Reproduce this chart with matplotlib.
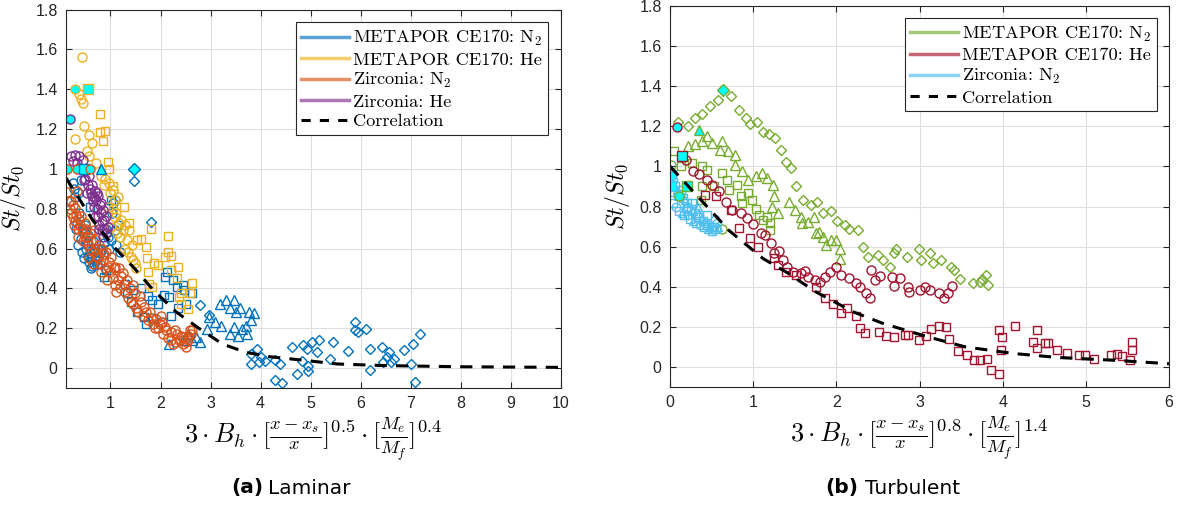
import matplotlib
matplotlib.use("Agg")
import matplotlib.pyplot as plt
from matplotlib.lines import Line2D
from matplotlib.font_manager import FontProperties

plt.rcParams['mathtext.fontset'] = 'cm'
plt.rcParams['font.family'] = ['Liberation Sans', 'DejaVu Sans']

# ---------------- laminar data ----------------
lam_corr_x = [0.11, 0.64, 1.1, 1.48, 1.86, 2.32, 2.78, 3.24, 3.7, 4.16, 4.92, 5.53, 6.45, 8.0, 10.0]
lam_corr_y = [0.955, 0.744, 0.60, 0.50, 0.39, 0.28, 0.197, 0.12, 0.079, 0.057, 0.037, 0.02, 0.012, 0.006, 0.003]

lam_n2_circ_x = [0.26, 0.41, 0.30, 0.34, 0.41, 0.49, 0.53, 0.56, 0.60, 0.64, 0.72, 0.79, 0.87, 1.02,
                 1.10, 1.06, 1.10, 0.45, 0.38, 0.52, 0.58, 0.68, 0.76, 0.66, 0.50, 0.95, 1.15, 0.62, 1.04,
                 0.32, 0.36, 0.43, 0.47, 0.55, 0.62, 0.70, 0.74, 0.82, 0.92, 0.98, 1.12, 1.20, 0.28, 0.35]
lam_n2_circ_y = [0.93, 0.946, 0.86, 0.727, 0.65, 0.677, 0.626, 0.56, 0.576, 0.51, 0.542, 0.576, 0.626, 0.643,
                 0.694, 0.828, 0.845, 0.70, 0.78, 0.60, 0.53, 0.52, 0.60, 0.64, 0.72, 0.66, 0.72, 0.55, 0.78,
                 0.70, 0.62, 0.58, 0.55, 0.67, 0.50, 0.58, 0.52, 0.60, 0.70, 0.60, 0.62, 0.58, 0.90, 0.88]
lam_n2_sq_x = [0.87, 0.91, 1.02, 1.33, 1.40, 1.44, 1.52, 1.67, 1.71, 1.83, 1.94, 2.02, 2.06, 2.09, 2.13,
               2.17, 2.25, 2.32, 2.44, 2.47, 2.51, 2.63, 1.60, 1.75, 2.20, 1.30, 1.85, 2.35, 0.60]
lam_n2_sq_y = [0.458, 0.49, 0.845, 0.374, 0.332, 0.39, 0.281, 0.256, 0.222, 0.34, 0.323, 0.23, 0.365, 0.458,
               0.483, 0.357, 0.441, 0.407, 0.416, 0.39, 0.323, 0.374, 0.40, 0.36, 0.26, 0.42, 0.25, 0.30, 0.81]
lam_n2_tri_x = [2.17, 2.63, 2.70, 2.78, 2.93, 2.97, 3.08, 3.18, 3.20, 3.31, 3.39, 3.39, 3.47, 3.47, 3.50,
                3.54, 3.58, 3.62, 3.70, 3.73, 3.77, 3.81, 3.86, 2.45, 2.55]
lam_n2_tri_y = [0.12, 0.138, 0.155, 0.13, 0.197, 0.256, 0.23, 0.32, 0.21, 0.34, 0.30, 0.17, 0.34, 0.205, 0.28,
                0.163, 0.30, 0.197, 0.21, 0.17, 0.28, 0.24, 0.277, 0.14, 0.17]
lam_n2_dia_x = [1.46, 1.80, 2.78, 2.97, 3.81, 3.81, 3.93, 4.0, 4.08, 3.96, 4.29, 4.38, 4.29, 4.42, 4.63, 4.73,
                4.83, 4.84, 4.93, 4.94, 4.95, 5.03, 5.13, 5.17, 5.38, 5.44, 5.74, 5.88, 5.88, 5.95, 6.1, 6.18,
                6.18, 6.43, 6.45, 6.52, 6.56, 6.6, 6.67, 6.87, 7.0, 7.04, 7.08, 7.19]
lam_n2_dia_y = [0.94, 0.735, 0.315, 0.264, 0.02, 0.07, 0.096, 0.054, 0.037, 0.03, 0.04, 0.02, -0.06, -0.077,
                0.104, -0.03, 0.037, 0.113, 0.096, 0.012, -0.013, 0.13, 0.079, 0.14, 0.045, 0.13, 0.084, 0.23,
                0.19, 0.18, 0.197, 0.096, -0.01, 0.104, 0.03, 0.054, 0.08, 0.03, 0.045, 0.088, 0.02, 0.12,
                -0.072, 0.17]

lam_he_circ_x = [0.43, 0.37, 0.41, 0.45, 0.47, 0.58, 0.30, 0.64, 0.53, 0.58, 0.72, 0.81, 0.87, 1.06, 1.10,
                 0.95, 1.10, 1.18, 1.25, 1.33, 1.29, 1.40, 1.48, 1.14, 1.21, 1.02, 1.37,
                 1.00, 1.05, 1.12, 1.20, 1.30, 1.35, 1.42, 1.45, 1.50, 0.90, 0.98, 1.15]
lam_he_circ_y = [1.56, 1.375, 1.35, 1.333, 1.215, 1.17, 1.148, 1.13, 1.09, 1.064, 1.03, 0.963, 0.92, 0.896,
                 0.845, 0.81, 0.76, 0.727, 0.694, 0.643, 0.60, 0.559, 0.525, 0.677, 0.744, 0.71, 0.694,
                 0.88, 0.80, 0.78, 0.66, 0.72, 0.58, 0.62, 0.54, 0.50, 0.95, 0.93, 0.86]
lam_he_sq_x = [0.79, 0.79, 0.89, 0.86, 0.95, 0.98, 1.06, 1.27, 1.37, 1.52, 1.60, 1.71, 1.73, 1.81, 1.86,
               1.94, 1.75, 1.77, 1.83, 2.09, 2.15, 2.15, 2.21, 2.21, 2.34, 2.32, 2.40, 2.40, 2.55, 2.59,
               2.63, 2.36]
lam_he_sq_y = [1.274, 1.185, 1.19, 1.14, 1.035, 0.997, 0.912, 0.81, 0.73, 0.643, 0.646, 0.61, 0.55, 0.697,
               0.525, 0.517, 0.483, 0.424, 0.407, 0.556, 0.663, 0.584, 0.56, 0.49, 0.508, 0.45, 0.374, 0.323,
               0.298, 0.374, 0.428, 0.357]

lam_zr_n2_x = [0.14, 0.34, 0.22, 0.30, 0.41, 0.49, 0.60, 0.68, 0.72, 0.83, 0.91, 1.02, 0.95, 1.10, 1.18,
               1.25, 1.10, 1.33, 1.44, 1.48, 1.60, 1.67, 1.79, 1.90, 2.02, 2.09, 2.21, 2.32, 2.44, 2.55,
               2.63, 2.51, 2.25, 2.36, 0.20, 0.25, 0.30, 0.35, 0.40, 0.45, 0.50, 0.55, 0.60, 0.65, 0.70,
               0.75, 0.80, 0.85, 0.90, 1.00, 1.05, 1.15, 1.20, 1.30, 1.35, 1.40, 1.50, 1.55, 1.65, 1.75,
               1.85, 1.95, 2.05, 2.15, 2.30, 2.45, 2.55, 2.60,
               0.18, 0.22, 0.26, 0.28, 0.32, 0.36, 0.38, 0.43, 0.46, 0.52, 0.56, 0.58, 0.62, 0.66, 0.72,
               0.78, 0.82, 0.88, 0.94, 0.98, 1.08, 1.12, 1.22, 1.28, 1.38, 1.45, 1.58, 1.70, 1.80, 1.88,
               1.98, 2.10, 2.20, 2.28, 2.40, 2.50, 2.58, 2.00]
lam_zr_n2_y = [0.882, 0.887, 0.837, 0.803, 0.761, 0.727, 0.677, 0.694, 0.643, 0.60, 0.584, 0.559, 0.508,
               0.508, 0.50, 0.475, 0.416, 0.441, 0.416, 0.374, 0.332, 0.306, 0.281, 0.247, 0.23, 0.205,
               0.18, 0.172, 0.155, 0.163, 0.19, 0.104, 0.121, 0.138, 0.80, 0.76, 0.74, 0.70, 0.72, 0.68,
               0.66, 0.62, 0.60, 0.58, 0.60, 0.55, 0.52, 0.54, 0.50, 0.48, 0.45, 0.44, 0.40, 0.38, 0.35,
               0.33, 0.30, 0.28, 0.26, 0.24, 0.22, 0.20, 0.17, 0.15, 0.13, 0.12, 0.14, 0.17,
               0.84, 0.78, 0.82, 0.72, 0.77, 0.66, 0.75, 0.70, 0.64, 0.70, 0.66, 0.55, 0.64, 0.52, 0.56,
               0.62, 0.48, 0.57, 0.44, 0.53, 0.50, 0.38, 0.46, 0.42, 0.40, 0.32, 0.36, 0.28, 0.25, 0.20,
               0.22, 0.19, 0.14, 0.19, 0.16, 0.13, 0.19, 0.26]

lam_zr_he_x = [0.22, 0.30, 0.37, 0.45, 0.53, 0.58, 0.64, 0.70, 0.76, 0.81, 0.85, 0.91, 0.95, 0.91, 0.83,
               0.76, 0.68, 0.63, 0.53, 0.47, 0.37, 0.72, 0.81, 0.87, 0.60, 0.66, 0.78,
               0.25, 0.33, 0.42, 0.50, 0.55, 0.62, 0.67, 0.73, 0.79, 0.84, 0.88, 0.78, 0.70, 0.74, 0.86]
lam_zr_he_y = [1.064, 1.072, 1.064, 1.047, 0.997, 0.963, 0.92, 0.887, 0.862, 0.828, 0.795, 0.761, 0.71,
               0.677, 0.694, 0.761, 0.811, 0.862, 0.879, 0.946, 1.005, 0.845, 0.778, 0.744, 0.90, 0.84, 0.72,
               1.04, 1.03, 1.00, 0.95, 0.92, 0.88, 0.86, 0.80, 0.82, 0.74, 0.70, 0.70, 0.76, 0.88, 0.66]

# first points (filled cyan): x, y, marker, edge colour index
lam_start_x = [0.13, 0.33, 0.47, 0.60, 0.81, 0.30, 0.55, 0.20, 1.46]
lam_start_y = [1.0, 1.0, 1.0, 1.0, 1.0, 1.40, 1.40, 1.25, 1.0]
lam_start_m = ['o', 'o', 's', 'o', '^', 'o', 's', 'o', 'D']
lam_start_c = [2, 2, 0, 2, 0, 1, 1, 3, 0]

# ---------------- turbulent data ----------------
tur_corr_x = [0.0, 0.71, 1.12, 1.39, 1.75, 2.2, 2.56, 3.1, 3.55, 4.13, 4.67, 5.35, 6.0]
tur_corr_y = [1.0, 0.68, 0.54, 0.475, 0.375, 0.275, 0.217, 0.15, 0.10, 0.067, 0.047, 0.033, 0.016]

tur_n2_dia_x = [0.09, 0.21, 0.30, 0.39, 0.48, 0.58, 0.73, 0.83, 0.91, 0.96, 1.05, 1.12, 1.19, 1.26, 1.34,
                1.39, 1.45, 1.52, 1.60, 1.70, 1.77, 1.84, 1.94, 2.01, 2.10, 2.15, 2.26, 2.32, 2.38, 2.50,
                2.56, 2.65, 2.72, 2.69, 2.85, 2.99, 3.02, 3.12, 3.16, 3.26, 3.38, 3.41, 3.49, 3.64, 3.73,
                3.80, 3.82, 3.75]
tur_n2_dia_y = [1.22, 1.20, 1.24, 1.26, 1.30, 1.33, 1.35, 1.28, 1.24, 1.21, 1.22, 1.17, 1.16, 1.14, 1.08,
                1.02, 0.99, 0.90, 0.83, 0.81, 0.825, 0.77, 0.78, 0.73, 0.71, 0.687, 0.683, 0.60, 0.55, 0.56,
                0.533, 0.50, 0.59, 0.567, 0.55, 0.587, 0.533, 0.567, 0.517, 0.533, 0.50, 0.483, 0.44, 0.417,
                0.425, 0.458, 0.408, 0.44]
tur_n2_tri_x = [0.22, 0.30, 0.39, 0.45, 0.50, 0.60, 0.63, 0.70, 0.78, 0.78, 0.87, 0.94, 1.03, 1.11, 1.16,
                1.24, 1.25, 1.23, 1.30, 1.43, 1.50, 1.57, 1.66, 1.73, 1.75, 1.84, 1.93, 2.00, 2.04, 2.04,
                1.88, 1.79, 1.59]
tur_n2_tri_y = [1.10, 1.11, 1.125, 1.15, 1.117, 1.083, 1.125, 1.075, 1.058, 1.008, 0.975, 0.933, 0.95, 0.967,
                0.942, 0.908, 0.85, 0.80, 0.767, 0.825, 0.783, 0.75, 0.725, 0.75, 0.667, 0.65, 0.633, 0.633,
                0.59, 0.54, 0.608, 0.675, 0.717]
tur_n2_sq_x = [0.05, 0.13, 0.26, 0.39, 0.44, 0.39, 0.53, 0.62, 0.69, 0.71, 0.80, 0.85, 0.87, 0.94, 0.98,
               1.03, 1.07, 1.12, 1.20, 1.20, 1.16, 0.37]
tur_n2_sq_y = [1.075, 1.0, 1.017, 1.0, 0.983, 0.90, 0.90, 0.967, 0.933, 0.883, 0.908, 0.85, 0.817, 0.867,
               0.833, 0.79, 0.758, 0.733, 0.717, 0.683, 0.75, 0.833]
tur_n2_circ_x = [0.01, 0.62]
tur_n2_circ_y = [1.008, 0.69]

tur_he_circ_x = [0.19, 0.27, 0.35, 0.44, 0.51, 0.59, 0.67, 0.75, 0.85, 0.93, 1.00, 1.09, 1.14, 1.21, 1.25,
                 1.31, 1.36, 1.41, 1.48, 1.57, 1.62, 1.66, 1.74, 1.80, 1.86, 1.92, 2.00, 2.06, 2.15, 2.23,
                 2.29, 2.36, 2.40, 2.42, 2.46, 2.53, 2.67, 2.69, 2.76, 2.86, 2.87, 3.01, 3.07, 3.12, 3.23,
                 3.30, 3.34, 3.39]
tur_he_circ_y = [1.03, 0.975, 0.963, 0.933, 0.907, 0.875, 0.825, 0.783, 0.767, 0.742, 0.713, 0.667, 0.658,
                 0.62, 0.567, 0.58, 0.533, 0.50, 0.475, 0.467, 0.48, 0.45, 0.433, 0.425, 0.45, 0.475, 0.50,
                 0.458, 0.442, 0.42, 0.40, 0.367, 0.342, 0.483, 0.433, 0.453, 0.45, 0.403, 0.442, 0.40,
                 0.375, 0.383, 0.40, 0.383, 0.367, 0.342, 0.367, 0.403]
tur_he_sq_x = [0.42, 0.55, 0.73, 0.83, 0.96, 1.06, 1.25, 1.30, 1.39, 1.51, 1.75, 1.86, 1.96, 2.05, 2.13,
               2.23, 2.29, 2.35, 2.51, 2.60, 2.69, 2.82, 2.86, 2.99, 3.08, 3.14, 3.23, 3.32, 3.36, 3.46,
               3.57, 3.66, 3.73, 3.81, 3.86, 3.95, 3.96, 3.99, 3.98, 4.15, 4.36, 4.41, 4.41, 4.51, 4.55,
               4.65, 4.77, 4.92, 4.99, 5.10, 5.30, 5.37, 5.44, 5.53, 5.55, 5.55]
tur_he_sq_y = [0.858, 0.85, 0.783, 0.692, 0.642, 0.597, 0.542, 0.508, 0.475, 0.458, 0.40, 0.342, 0.313,
               0.267, 0.292, 0.253, 0.192, 0.17, 0.172, 0.153, 0.147, 0.158, 0.158, 0.133, 0.155, 0.187,
               0.203, 0.20, 0.137, 0.078, 0.062, 0.037, 0.033, 0.042, -0.017, -0.033, 0.183, 0.15, 0.083,
               0.203, 0.125, 0.183, 0.092, 0.117, 0.117, 0.083, 0.07, 0.062, 0.058, 0.038, 0.058, 0.067,
               0.053, 0.037, 0.125, 0.083]

tur_zr_x = [0.02, 0.04, 0.06, 0.08, 0.10, 0.12, 0.15, 0.18, 0.20, 0.22, 0.25, 0.28, 0.30, 0.33, 0.35, 0.38,
            0.40, 0.42, 0.45, 0.48, 0.50, 0.52, 0.55, 0.58, 0.03, 0.07, 0.11, 0.14, 0.17, 0.21, 0.24, 0.27,
            0.31, 0.36, 0.41, 0.46, 0.51, 0.56, 0.05, 0.09, 0.13, 0.19, 0.26, 0.34, 0.44, 0.54]
tur_zr_y = [0.96, 0.93, 0.90, 0.88, 0.86, 0.85, 0.84, 0.83, 0.82, 0.80, 0.79, 0.78, 0.77, 0.76, 0.75, 0.74,
            0.73, 0.72, 0.71, 0.70, 0.70, 0.69, 0.69, 0.70, 0.82, 0.80, 0.78, 0.77, 0.76, 0.76, 0.74, 0.73,
            0.72, 0.71, 0.70, 0.69, 0.68, 0.72, 0.87, 0.85, 0.88, 0.79, 0.82, 0.80, 0.76, 0.74]
tur_zr_m = ['s', 'o', 's', '^'] * 11 + ['s', 'o']

tur_start_x = [0.08, 0.14, 0.20, 0.11, 0.01, 0.01, 0.35, 0.64]
tur_start_y = [1.195, 1.05, 0.90, 0.85, 0.95, 0.90, 1.18, 1.38]
tur_start_m = ['o', 's', 's', 'o', 'o', 's', '^', 'D']
tur_start_c = [1, 1, 0, 0, 2, 2, 0, 0]

lam_colors = ['#0072BD', '#EDB120', '#D95319', '#7E2F8E']
tur_colors = ['#77AC30', '#A2142F', '#4DBEEE']
lam_labels = ['METAPOR CE170: N$_2$', 'METAPOR CE170: He', 'Zirconia: N$_2$', 'Zirconia: He']
tur_labels = ['METAPOR CE170: N$_2$', 'METAPOR CE170: He', 'Zirconia: N$_2$']

MS = 6.5


def pts(ax, x, y, m, c, ms=MS):
    ax.plot(x, y, linestyle='none', marker=m, ms=ms, mfc='none', mec=c, mew=1.0)


def style(ax, xt, yt):
    ax.set_xticks(xt)
    ax.set_yticks(yt)
    ax.set_xticklabels(['%g' % v for v in xt])
    ax.set_yticklabels(['%g' % v for v in yt])
    ax.grid(True, color='#dedede', linewidth=0.8)
    ax.set_axisbelow(True)
    ax.tick_params(direction='in', top=True, right=True, length=4, width=0.8,
                   labelsize=11.5, colors='#262626', pad=6)
    for s in ax.spines.values():
        s.set_color('#262626')
        s.set_linewidth(0.8)


fig = plt.figure(figsize=(11.78, 5.07), dpi=100)
axl = fig.add_axes([0.056, 0.235, 0.420, 0.746])
axr = fig.add_axes([0.5688, 0.2367, 0.4236, 0.7515])

# laminar
pts(axl, lam_n2_circ_x, lam_n2_circ_y, 'o', lam_colors[0])
pts(axl, lam_n2_sq_x, lam_n2_sq_y, 's', lam_colors[0], MS - 0.5)
pts(axl, lam_n2_tri_x, lam_n2_tri_y, '^', lam_colors[0])
pts(axl, lam_n2_dia_x, lam_n2_dia_y, 'D', lam_colors[0], MS - 1)
pts(axl, lam_he_circ_x, lam_he_circ_y, 'o', lam_colors[1])
pts(axl, lam_he_sq_x, lam_he_sq_y, 's', lam_colors[1], MS - 0.5)
pts(axl, lam_zr_n2_x, lam_zr_n2_y, 'o', lam_colors[2])
pts(axl, lam_zr_he_x, lam_zr_he_y, 'o', lam_colors[3])
for x, y, m, c in zip(lam_start_x, lam_start_y, lam_start_m, lam_start_c):
    axl.plot(x, y, linestyle='none', marker=m, ms=MS, mfc='#00FFFF', mec=lam_colors[c], mew=1.0)
axl.plot(lam_corr_x, lam_corr_y, 'k--', lw=2.2, dashes=(4, 3))
axl.set_xlim(0.11, 10)
axl.set_ylim(-0.1, 1.8)
style(axl, list(range(1, 11)), [0, 0.2, 0.4, 0.6, 0.8, 1, 1.2, 1.4, 1.6, 1.8])

# turbulent
pts(axr, tur_n2_dia_x, tur_n2_dia_y, 'D', tur_colors[0], MS - 1)
pts(axr, tur_n2_tri_x, tur_n2_tri_y, '^', tur_colors[0])
pts(axr, tur_n2_sq_x, tur_n2_sq_y, 's', tur_colors[0], MS - 0.5)
pts(axr, tur_n2_circ_x, tur_n2_circ_y, 'o', tur_colors[0])
pts(axr, tur_he_circ_x, tur_he_circ_y, 'o', tur_colors[1])
pts(axr, tur_he_sq_x, tur_he_sq_y, 's', tur_colors[1], MS - 0.5)
for x, y, m in zip(tur_zr_x, tur_zr_y, tur_zr_m):
    pts(axr, [x], [y], m, tur_colors[2], MS - 0.5)
for x, y, m, c in zip(tur_start_x, tur_start_y, tur_start_m, tur_start_c):
    axr.plot(x, y, linestyle='none', marker=m, ms=MS, mfc='#00FFFF', mec=tur_colors[c], mew=1.0)
axr.plot(tur_corr_x, tur_corr_y, 'k--', lw=2.2, dashes=(4, 3))
axr.set_xlim(0, 6)
axr.set_ylim(-0.1, 1.8)
style(axr, list(range(0, 7)), [0, 0.2, 0.4, 0.6, 0.8, 1, 1.2, 1.4, 1.6, 1.8])

# labels
for ax, e1, e2 in [(axl, '0.5', '0.4'), (axr, '0.8', '1.4')]:
    ax.set_xlabel(r'$3\cdot B_h\cdot[\frac{x-x_s}{x}]^{%s}\cdot[\frac{M_e}{M_f}]^{%s}$'
                  % (e1, e2), fontsize=19, labelpad=2)
    ax.set_ylabel(r'$St/St_0$', fontsize=17, labelpad=5)

# legends
leg_font = FontProperties(family='cmr10', size=13.2)
for ax, cols, labs, anchor in [(axl, lam_colors, lam_labels, (0.974, 0.966)),
                               (axr, tur_colors, tur_labels, (0.976, 0.968))]:
    handles = [Line2D([], [], color=c, lw=2.5, alpha=0.65) for c in cols]
    handles.append(Line2D([], [], color='k', lw=2.2, ls='--', dashes=(3, 3)))
    leg = ax.legend(handles, labs + ['Correlation'], loc='upper right', bbox_to_anchor=anchor,
                    borderaxespad=0, prop=leg_font, fancybox=False, framealpha=1,
                    edgecolor='#262626', handlelength=2.6, handletextpad=0.25,
                    labelspacing=0.2, borderpad=0.3)
    leg.get_frame().set_linewidth(0.8)

# captions
fig.text(263 / 1178, 1 - 488 / 507, '(a)', fontsize=14.5, fontweight='bold', ha='right', va='center',
         family='DejaVu Sans')
fig.text(268 / 1178, 1 - 488 / 507, 'Laminar', fontsize=14.5, ha='left', va='center', family='DejaVu Sans')
fig.text(858 / 1178, 1 - 488 / 507, '(b)', fontsize=14.5, fontweight='bold', ha='right', va='center',
         family='DejaVu Sans')
fig.text(865 / 1178, 1 - 488 / 507, 'Turbulent', fontsize=14.5, ha='left', va='center', family='DejaVu Sans')

fig.savefig('out.png', dpi=100)
